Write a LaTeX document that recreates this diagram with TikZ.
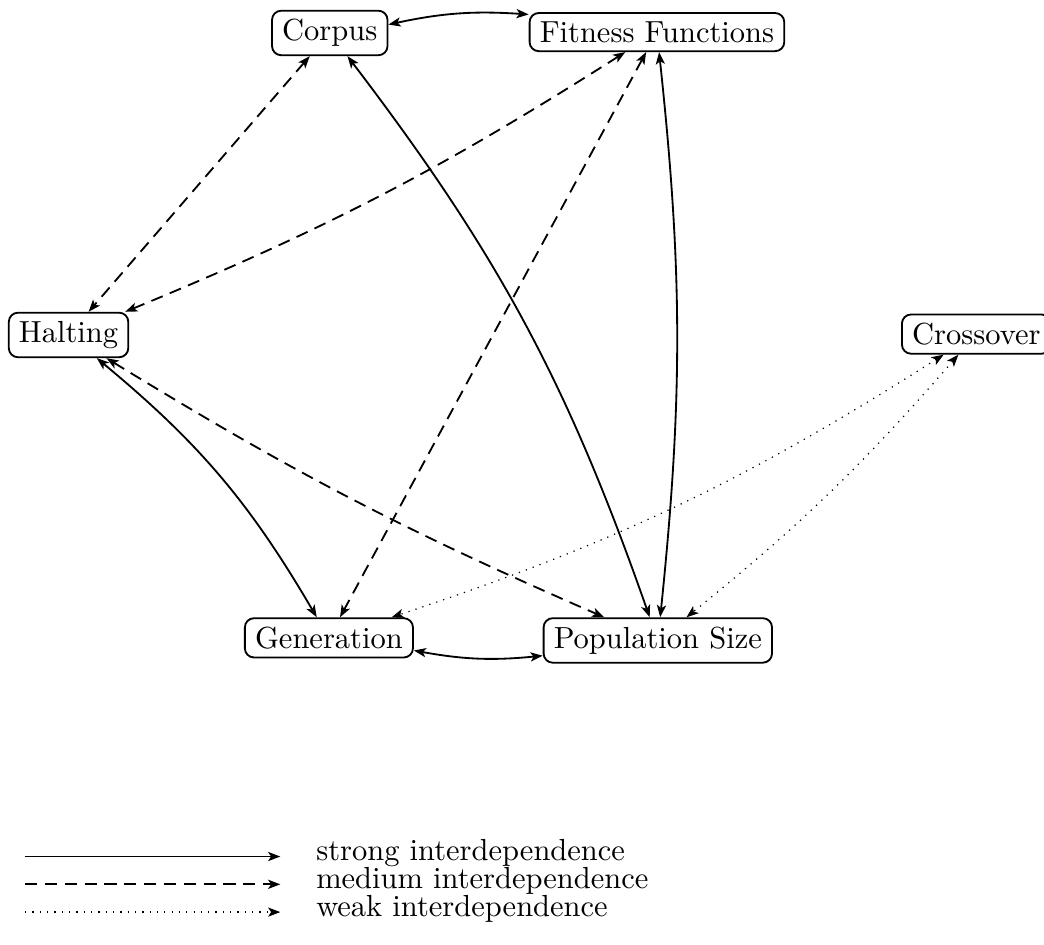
\documentclass[tikz,border=0pt]{standalone}
\usetikzlibrary{arrows.meta}

\tikzset{
  factor/.style={draw, semithick, rounded corners=3pt, inner ysep=2.8pt},
  strong/.style={semithick, <->},
  medium/.style={semithick, dash pattern=on 4pt off 2.5pt, <->},
  weak/.style={thin, dotted, <->},
}

\begin{document}
\begin{tikzpicture}[>={Stealth[length=4pt,width=3pt,inset=1pt]}]
\useasboundingbox (0,0) rectangle (12.03,10.88);

% factors of the run
\node[factor] (corpus)     at (3.8,10.5)   {Corpus};
\node[factor] (fitness)    at (7.57,10.51) {Fitness Functions};
\node[factor] (halting)    at (0.79,7.02)  {Halting};
\node[factor] (crossover)  at (11.25,7.03) {Crossover};
\node[factor] (generation) at (3.79,3.53)  {Generation};
\node[factor] (popsize)    at (7.58,3.5)   {Population Size};

% strong
\draw[strong] (corpus) to[bend left=8] (fitness);
\draw[strong] (corpus) to[bend left=9] (popsize);
\draw[strong] (fitness) to[bend left=6] (popsize);
\draw[strong] (halting) to[bend left=10] (generation);
\draw[strong] (generation) to[bend right=8] (popsize);
% medium
\draw[medium] (corpus) -- (halting);
\draw[medium] (halting) to[bend right=5] (fitness);
\draw[medium] (fitness) -- (generation);
\draw[medium] (halting) to[bend right=4] (popsize);
% weak
\draw[weak] (crossover) to[bend left=7] (generation);
\draw[weak] (crossover) to[bend left=5] (popsize);

% legend
\foreach \kind/\y in {strong/1.01, medium/0.69, weak/0.37} {
  \coordinate (\kind-a) at (0.29,\y);
  \coordinate (\kind-b) at (3.23,\y);
  \node[anchor=west] (\kind-txt) at (3.52,\y+0.04) {\kind\ interdependence};
  \draw[\kind,->] (\kind-a) -- (\kind-b);
}
\end{tikzpicture}
\end{document}
